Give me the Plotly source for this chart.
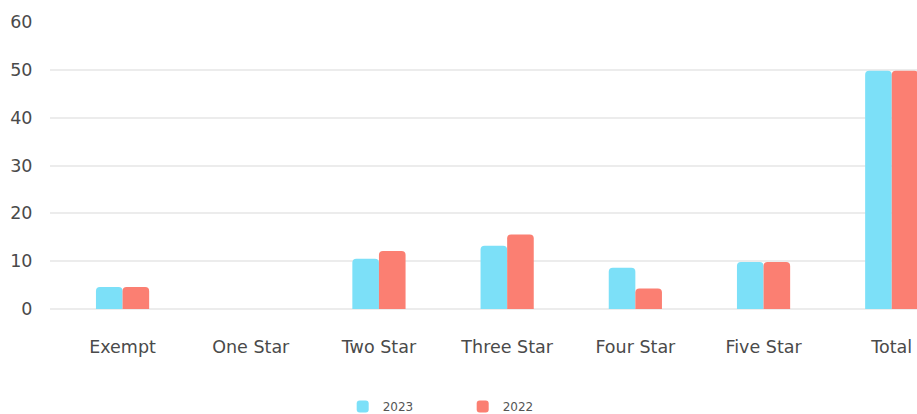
import plotly.graph_objects as go

categories = ["Exempt", "One Star", "Two Star", "Three Star", "Four Star", "Five Star", "Total"]
values_2023 = [4.6, 0, 10.5, 13.2, 8.6, 9.8, 49.8]
values_2022 = [4.6, 0, 12.1, 15.6, 4.3, 9.8, 49.8]
y_ticks = [0, 10, 20, 30, 40, 50, 60]

fig = go.Figure()
fig.add_trace(go.Bar(x=categories, y=values_2023, name="2023",
                     marker=dict(color="#7ce0f8", cornerradius=4, line=dict(width=0))))
fig.add_trace(go.Bar(x=categories, y=values_2022, name="2022",
                     marker=dict(color="#fb7f72", cornerradius=4, line=dict(width=0))))

fig.update_layout(
    width=917, height=414,
    margin=dict(l=50, r=0, t=22, b=105, autoexpand=False),
    paper_bgcolor="white", plot_bgcolor="white",
    font=dict(family="DejaVu Sans, sans-serif", size=17.5, color="#4a4a4a"),
    barmode="group", bargap=0.585, bargroupgap=0,
    showlegend=True,
    legend=dict(orientation="h", x=0.476, xanchor="center", y=-0.34, yanchor="middle",
                font=dict(size=12, color="#555"), entrywidth=75, itemwidth=30),
    xaxis=dict(range=[-0.566, 6.197], showgrid=False, zeroline=False, showline=False,
               ticks="outside", ticklen=22, tickcolor="rgba(0,0,0,0)", fixedrange=True),
    yaxis=dict(range=[0, 60], tickvals=y_ticks, showgrid=True, gridcolor="#ececec",
               gridwidth=1.5, zeroline=True, zerolinecolor="#ececec", zerolinewidth=1.5,
               showline=False, ticks="outside", ticklen=13, tickcolor="rgba(0,0,0,0)"),
)

fig.write_html("out.html")
